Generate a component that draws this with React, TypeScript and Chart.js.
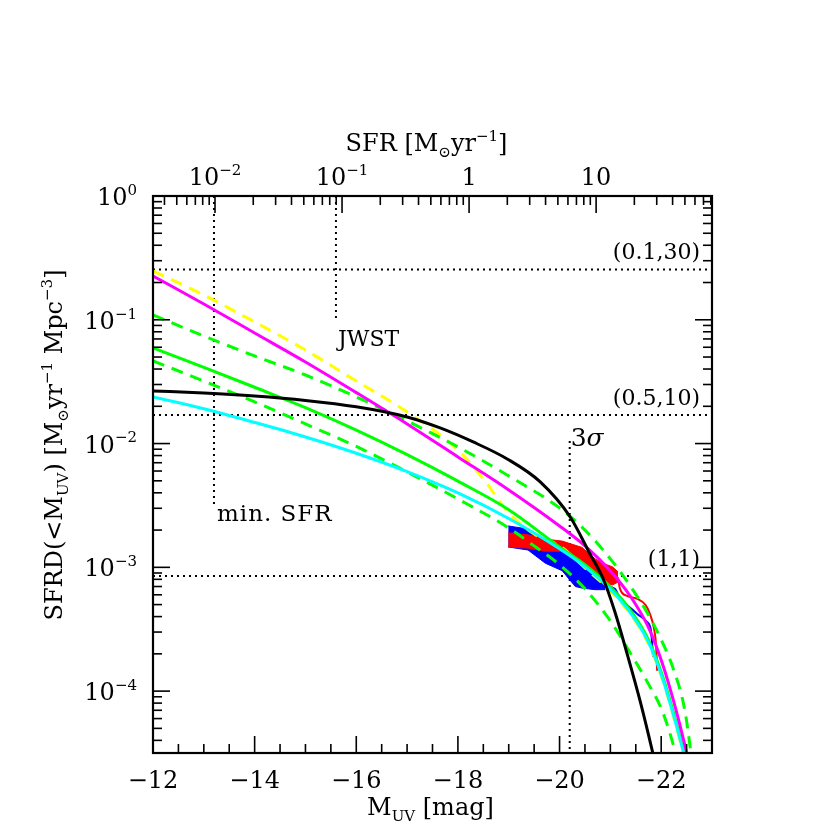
import React, { useEffect, useRef } from 'react';
import { Chart, registerables } from 'chart.js';

Chart.register(...registerables);

const FONT = '"DejaVu Serif", "Liberation Serif", serif';

// ---------------- data ----------------
// Black solid
const M_BLACK = [-12.0, -13.0, -14.0, -15.0, -16.0, -17.0, -17.65, -18.3, -18.97, -19.62, -20.21, -20.6, -20.86, -21.09, -21.33, -21.59, -21.83, -21.92];
const SFRD_BLACK = [0.0266, 0.0256, 0.0242, 0.0223, 0.0198, 0.0164, 0.01337, 0.0103, 0.00751, 0.0049, 0.00255, 0.00128, 8.05e-4, 4.36e-4, 2.0e-4, 8.18e-5, 3.23e-5, 2.22e-5];

// Magenta solid
const M_MAGENTA = [-12.0, -13.0, -14.0, -15.0, -16.0, -17.0, -18.0, -19.0, -20.0, -20.5, -21.0, -21.39, -21.74, -22.02, -22.26, -22.46, -22.57];
const SFRD_MAGENTA = [0.226, 0.134, 0.0782, 0.0456, 0.0258, 0.0144, 0.0078, 0.00422, 0.00216, 0.00149, 9.35e-4, 5.87e-4, 3.33e-4, 1.69e-4, 7.88e-5, 3.75e-5, 2.35e-5];

// Cyan solid
const M_CYAN = [-12.0, -13.0, -14.0, -15.0, -16.0, -17.0, -18.0, -19.0, -20.0, -20.5, -21.0, -21.39, -21.74, -22.02, -22.26, -22.46];
const SFRD_CYAN = [0.0238, 0.0191, 0.0148, 0.0113, 0.00835, 0.00593, 0.00399, 0.00248, 0.00141, 0.00101, 6.62e-4, 4.32e-4, 2.53e-4, 1.29e-4, 6.02e-5, 2.97e-5];

// Yellow dashed
const M_YELLOW = [-12.0, -13.0, -14.0, -15.0, -16.0, -17.0, -18.0, -18.5, -19.0, -19.5, -20.0, -20.5, -21.0, -21.39, -21.74, -22.02, -22.26, -22.46];
const SFRD_YELLOW = [0.248, 0.1585, 0.096, 0.057, 0.032, 0.018, 0.00888, 0.00518, 0.00275, 0.00186, 0.00149, 9.9e-4, 6.45e-4, 4.2e-4, 2.45e-4, 1.26e-4, 5.85e-5, 2.94e-5];

// Green solid
const M_GREEN = [-12.0, -13.0, -14.0, -15.0, -16.0, -17.0, -18.0, -19.0, -20.0, -20.5, -21.0, -21.39, -21.74, -22.02, -22.26, -22.46];
const SFRD_GREEN = [0.0592, 0.0413, 0.0285, 0.0195, 0.01283, 0.00813, 0.00497, 0.00292, 0.00146, 0.00105, 6.95e-4, 4.53e-4, 2.64e-4, 1.35e-4, 6.31e-5, 3.11e-5];

// Green dashed, upper
const M_GREEN_HI = [-12.0, -13.0, -14.0, -15.0, -16.0, -17.0, -18.0, -19.0, -20.0, -20.5, -21.0, -21.39, -21.74, -22.02, -22.26, -22.46, -22.57, -22.61];
const SFRD_GREEN_HI = [0.1093, 0.074, 0.051, 0.0358, 0.0238, 0.01523, 0.0094, 0.00547, 0.00302, 0.002, 0.00117, 7.08e-4, 4.2e-4, 2.5e-4, 1.43e-4, 7.18e-5, 3.54e-5, 2.58e-5];

// Green dashed, lower
const M_GREEN_LO = [-12.0, -13.0, -14.0, -15.0, -16.0, -17.0, -18.0, -19.0, -19.5, -20.0, -20.5, -21.0, -21.39, -21.74, -22.02, -22.26, -22.34];
const SFRD_GREEN_LO = [0.0465, 0.032, 0.0217, 0.0144, 0.00948, 0.0059, 0.00357, 0.00208, 0.00149, 0.00105, 6.7e-4, 3.69e-4, 2.04e-4, 1.16e-4, 6.92e-5, 3.41e-5, 2.44e-5];

// Blue band + tail line
const M_BLUE_BAND = [-18.99, -19.38, -19.72, -20.05, -20.31, -20.44, -20.7, -20.9];
const SFRD_BLUE_HI = [0.00216, 0.00204, 0.00169, 0.00149, 0.00128, 0.00117, 9.7e-4, 7.76e-4];
const SFRD_BLUE_LO = [0.00146, 0.00138, 0.00108, 9.4e-4, 7.0e-4, 6.8e-4, 6.6e-4, 6.6e-4];
const M_BLUE_LINE = [-20.9, -21.09, -21.19, -21.35, -21.53, -21.72, -21.8, -21.84];
const SFRD_BLUE_LINE = [7.0e-4, 6.7e-4, 5.56e-4, 4.88e-4, 4.2e-4, 3.62e-4, 3.06e-4, 1.89e-4];

// Red band + tail line
const M_RED_BAND = [-18.99, -19.38, -19.72, -20.05, -20.44, -20.7, -20.9, -21.04, -21.15];
const SFRD_RED_HI = [0.0019, 0.00183, 0.00169, 0.00163, 0.00145, 0.00117, 0.00106, 0.00101, 9.2e-4];
const SFRD_RED_LO = [0.00146, 0.00143, 0.00135, 0.00135, 0.00113, 8.85e-4, 7.35e-4, 7.2e-4, 7.6e-4];
const M_RED_LINE = [-21.15, -21.19, -21.33, -21.53, -21.69, -21.78, -21.86, -21.9, -21.92];
const SFRD_RED_LINE = [8.3e-4, 6.7e-4, 5.87e-4, 5.56e-4, 4.97e-4, 4.2e-4, 3.18e-4, 2.32e-4, 1.46e-4];

// Reference (dotted) lines
const HLINE_SFRD = [0.255, 0.017, 8.5e-4];
const HLINE_LABELS = ['(0.1,30)', '(0.5,10)', '(1,1)'];
const VLINE_M = [-13.2, -15.6, -20.2];
const VLINE_TOP = [1, 1, 0.0105];
const VLINE_BOTTOM = [0.0032, 0.1, 3.1623e-5];
const VLINE_LABELS = ['min. SFR', 'JWST', '3σ'];

// Axes
const X_MIN = -23;
const X_MAX = -12;
const Y_MIN = 3.1623e-5;
const Y_MAX = 1;
const SFR_MIN = 0.00325;
const SFR_MAX = 81.7;
const X_MAJOR_TICKS = [-12, -14, -16, -18, -20, -22];
const X_MINOR_STEP = 0.5;
const Y_TICK_EXPONENTS = [0, -1, -2, -3, -4];
const SFR_TICKS = [0.01, 0.1, 1, 10];
const SFR_TICK_BASE = ['10', '10', '1', '10'];
const SFR_TICK_EXP = ['−2', '−1', '', ''];

// ---------------- helpers ----------------
type Seg = { t: string; k?: 'sup' | 'sub'; it?: boolean };

function drawRich(ctx: CanvasRenderingContext2D, segs: Seg[], x: number, y: number, align: 'left' | 'center' | 'right', size: number) {
  const small = Math.round(size * 0.64);
  const fontOf = (s: Seg) => `${s.it ? 'italic ' : ''}${s.k ? small : size}px ${FONT}`;
  const widths = segs.map((s) => {
    ctx.font = fontOf(s);
    return ctx.measureText(s.t).width;
  });
  const total = widths.reduce((a, b) => a + b, 0);
  let cx = align === 'left' ? x : align === 'right' ? x - total : x - total / 2;
  ctx.textAlign = 'left';
  ctx.textBaseline = 'alphabetic';
  segs.forEach((s, i) => {
    ctx.font = fontOf(s);
    const dy = s.k === 'sup' ? -size * 0.42 : s.k === 'sub' ? size * 0.24 : 0;
    ctx.fillText(s.t, cx, y + dy);
    cx += widths[i];
  });
}

const pts = (xs: number[], ys: number[]) => xs.map((x, i) => ({ x, y: ys[i] }));

const framePlugin = {
  id: 'pgframe',
  afterDatasetsDraw(chart: any) {
    const { ctx, chartArea: a, scales } = chart;
    const xs = scales.x;
    const ys = scales.y;
    const xt = scales.x2;
    ctx.save();
    ctx.strokeStyle = '#000';
    ctx.fillStyle = '#000';
    ctx.lineCap = 'butt';

    const seg = (x1: number, y1: number, x2: number, y2: number) => {
      ctx.beginPath();
      ctx.moveTo(x1, y1);
      ctx.lineTo(x2, y2);
      ctx.stroke();
    };

    // ticks
    ctx.lineWidth = 1.6;
    const MAJ = 17;
    const MIN = 9;
    for (let m = X_MAX; m >= X_MIN - 1e-9; m -= X_MINOR_STEP) {
      const px = xs.getPixelForValue(m);
      const major = X_MAJOR_TICKS.some((t) => Math.abs(t - m) < 1e-6);
      seg(px, a.bottom, px, a.bottom - (major ? MAJ : MIN));
    }
    for (let e = -5; e <= 0; e++) {
      for (let k = 1; k <= 9; k++) {
        const v = k * Math.pow(10, e);
        if (v < Y_MIN * 0.999 || v > Y_MAX * 1.001) continue;
        const py = ys.getPixelForValue(v);
        const len = k === 1 ? MAJ : MIN;
        seg(a.left, py, a.left + len, py);
        seg(a.right, py, a.right - len, py);
      }
    }
    for (let e = -3; e <= 1; e++) {
      for (let k = 1; k <= 9; k++) {
        const v = k * Math.pow(10, e);
        if (v < SFR_MIN || v > SFR_MAX) continue;
        const px = xt.getPixelForValue(v);
        seg(px, a.top, px, a.top + (k === 1 ? MAJ : MIN));
      }
    }

    // frame
    ctx.lineWidth = 2.2;
    ctx.strokeRect(a.left, a.top, a.right - a.left, a.bottom - a.top);

    // tick labels
    const TS = 24;
    X_MAJOR_TICKS.forEach((m) => {
      const px = xs.getPixelForValue(m);
      drawRich(ctx, [{ t: (m < 0 ? '−' : '') + Math.abs(m) }], px, a.bottom + 35, 'center', TS);
    });
    Y_TICK_EXPONENTS.forEach((e) => {
      const py = ys.getPixelForValue(Math.pow(10, e));
      drawRich(ctx, [{ t: '10' }, { t: e < 0 ? '−' + Math.abs(e) : String(e), k: 'sup' }], a.left - 16, py + 9, 'right', TS);
    });
    SFR_TICKS.forEach((v, i) => {
      const px = xt.getPixelForValue(v);
      const segs: Seg[] = [{ t: SFR_TICK_BASE[i] }];
      if (SFR_TICK_EXP[i]) segs.push({ t: SFR_TICK_EXP[i], k: 'sup' });
      drawRich(ctx, segs, px, a.top - 11, 'center', TS);
    });

    // axis titles
    drawRich(ctx, [{ t: 'M' }, { t: 'UV', k: 'sub' }, { t: ' [mag]' }], (a.left + a.right) / 2 - 2, a.bottom + 62, 'center', TS);
    drawRich(ctx, [{ t: 'SFR [M' }, { t: '⊙', k: 'sub' }, { t: 'yr' }, { t: '−1', k: 'sup' }, { t: ']' }], (a.left + a.right) / 2 - 6, a.top - 45, 'center', TS);
    ctx.save();
    ctx.translate(62, a.top + 249);
    ctx.rotate(-Math.PI / 2);
    drawRich(
      ctx,
      [
        { t: 'SFRD(<M' },
        { t: 'UV', k: 'sub' },
        { t: ') [M' },
        { t: '⊙', k: 'sub' },
        { t: 'yr' },
        { t: '−1', k: 'sup' },
        { t: ' Mpc' },
        { t: '−3', k: 'sup' },
        { t: ']' },
      ],
      0,
      0,
      'center',
      TS
    );
    ctx.restore();

    // annotation labels
    const LS = 22;
    HLINE_SFRD.forEach((v, i) => {
      const py = ys.getPixelForValue(v);
      drawRich(ctx, [{ t: HLINE_LABELS[i] }], a.right - 12, py - 10, 'right', LS);
    });
    // min. SFR
    {
      const px = xs.getPixelForValue(VLINE_M[0]);
      const py = ys.getPixelForValue(VLINE_BOTTOM[0]);
      ctx.save();
      (ctx as any).letterSpacing = '1px';
      drawRich(ctx, [{ t: VLINE_LABELS[0] }], px + 3, py + 16, 'left', 23);
      ctx.restore();
    }
    // JWST
    {
      const px = xs.getPixelForValue(VLINE_M[1]);
      const py = ys.getPixelForValue(VLINE_BOTTOM[1]);
      drawRich(ctx, [{ t: VLINE_LABELS[1] }], px + 2, py + 26, 'left', LS);
    }
    // 3 sigma
    {
      const px = xs.getPixelForValue(VLINE_M[2]);
      const py = ys.getPixelForValue(VLINE_TOP[2]);
      drawRich(ctx, [{ t: '3' }, { t: 'σ', it: true }], px + 1, py + 5, 'left', 25);
    }
    ctx.restore();
  },
};

export default function App() {
  const ref = useRef<HTMLCanvasElement | null>(null);

  useEffect(() => {
    if (!ref.current) return;
    const solid = (label: string, xs: number[], ys: number[], color: string, width = 3) => ({
      label,
      data: pts(xs, ys),
      borderColor: color,
      backgroundColor: color,
      borderWidth: width,
      pointRadius: 0,
      cubicInterpolationMode: 'monotone' as const,
      fill: false,
      clip: 0,
    });
    const dashed = (label: string, xs: number[], ys: number[], color: string) => ({
      ...solid(label, xs, ys, color, 3),
      borderDash: [12, 8],
    });
    const bandHi = (label: string, xs: number[], ys: number[], color: string) => ({
      label,
      data: pts(xs, ys),
      borderColor: color,
      backgroundColor: color,
      borderWidth: 1,
      pointRadius: 0,
      tension: 0,
      fill: '+1',
      clip: 0,
    });
    const bandLo = (label: string, xs: number[], ys: number[], color: string) => ({
      label,
      data: pts(xs, ys),
      borderColor: color,
      backgroundColor: color,
      borderWidth: 1,
      pointRadius: 0,
      tension: 0,
      fill: false,
      clip: 0,
    });
    const dotted = (label: string, data: { x: number; y: number }[]) => ({
      label,
      data,
      borderColor: '#000',
      borderWidth: 2,
      borderDash: [2, 4],
      pointRadius: 0,
      tension: 0,
      fill: false,
      clip: 0,
    });

    const datasets: any[] = [
      solid('black', M_BLACK, SFRD_BLACK, '#000000'),
      solid('cyan', M_CYAN, SFRD_CYAN, '#00ffff'),
      solid('magenta', M_MAGENTA, SFRD_MAGENTA, '#ff00ff'),
      solid('green', M_GREEN, SFRD_GREEN, '#00ff00'),
      dashed('green hi', M_GREEN_HI, SFRD_GREEN_HI, '#00ff00'),
      dashed('green lo', M_GREEN_LO, SFRD_GREEN_LO, '#00ff00'),
      dashed('yellow', M_YELLOW, SFRD_YELLOW, '#ffff00'),
      solid('blue line', M_BLUE_LINE, SFRD_BLUE_LINE, '#0000ff', 2),
      solid('red line', M_RED_LINE, SFRD_RED_LINE, '#ff0000', 2),
      bandHi('red hi', M_RED_BAND, SFRD_RED_HI, '#ff0000'),
      bandLo('red lo', M_RED_BAND, SFRD_RED_LO, '#ff0000'),
      bandHi('blue hi', M_BLUE_BAND, SFRD_BLUE_HI, '#0000ff'),
      bandLo('blue lo', M_BLUE_BAND, SFRD_BLUE_LO, '#0000ff'),
    ];
    HLINE_SFRD.forEach((v, i) => {
      datasets.push(dotted('h' + i, [{ x: X_MAX, y: v }, { x: X_MIN, y: v }]));
    });
    VLINE_M.forEach((m, i) => {
      datasets.push(dotted('v' + i, [{ x: m, y: VLINE_TOP[i] }, { x: m + 1e-6, y: VLINE_BOTTOM[i] }]));
    });

    const chart = new Chart(ref.current, {
      type: 'line',
      data: { datasets },
      options: {
        animation: false,
        responsive: false,
        devicePixelRatio: 1,
        events: [],
        layout: { padding: { left: 153, top: 196, right: 118, bottom: 77 } },
        plugins: { legend: { display: false }, tooltip: { enabled: false } },
        scales: {
          x: { type: 'linear', min: X_MIN, max: X_MAX, reverse: true, display: false },
          y: { type: 'logarithmic', min: Y_MIN, max: Y_MAX, display: false },
          x2: { type: 'logarithmic', axis: 'x', position: 'top', min: SFR_MIN, max: SFR_MAX, display: false },
        },
      } as any,
      plugins: [framePlugin],
    });
    return () => chart.destroy();
  }, []);

  return (
    <div style={{ position: 'fixed', left: 0, top: 0, width: 830, height: 830, background: '#fff' }}>
      <canvas ref={ref} width={830} height={830} style={{ display: 'block' }} />
    </div>
  );
}
